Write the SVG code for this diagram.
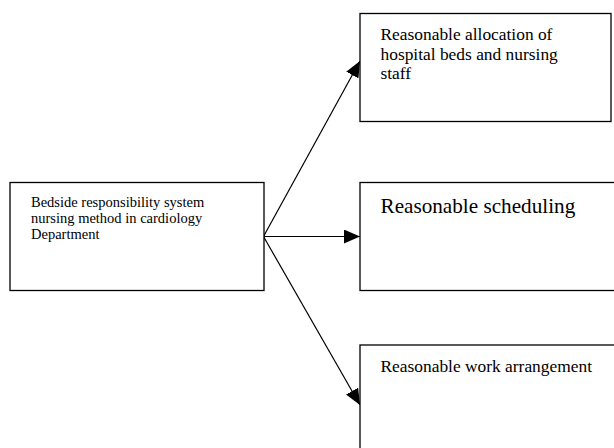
<svg xmlns="http://www.w3.org/2000/svg" width="614" height="448" viewBox="0 0 614 448">
  <style>
    .box { fill: #ffffff; stroke: #000000; stroke-width: 1.3; }
    .conn { fill: none; stroke: #000000; stroke-width: 1.2; marker-end: url(#arrow); }
    .t { font-family: "Liberation Serif", "Times New Roman", serif; fill: #000000; }
  </style>
  <defs>
    <marker id="arrow" markerUnits="userSpaceOnUse" markerWidth="16" markerHeight="14" refX="16" refY="7" orient="auto">
      <path d="M0,0 L16,7 L0,14 z" fill="#000000"/>
    </marker>
  </defs>
  <rect width="614" height="448" fill="#ffffff"/>
  <g id="connectors">
    <line class="conn" x1="263.5" y1="236.5" x2="360" y2="61"/>
    <line class="conn" x1="263.5" y1="236.5" x2="360" y2="236.5"/>
    <line class="conn" x1="263.5" y1="236.5" x2="360" y2="405"/>
  </g>
  <g id="node-source">
    <rect class="box" x="10" y="182.5" width="254" height="108"/>
    <text class="t" font-size="14.5" x="31" y="206.5">Bedside responsibility system</text>
    <text class="t" font-size="14.5" x="31" y="222.5">nursing method in cardiology</text>
    <text class="t" font-size="14.5" x="31" y="238.5">Department</text>
  </g>
  <g id="node-allocation">
    <rect class="box" x="360" y="13.5" width="251" height="108"/>
    <text class="t" font-size="17.4" x="380.5" y="40">Reasonable allocation of</text>
    <text class="t" font-size="17.4" x="380.5" y="59.5">hospital beds and nursing</text>
    <text class="t" font-size="17.4" x="380.5" y="79">staff</text>
  </g>
  <g id="node-scheduling">
    <rect class="box" x="360" y="182.5" width="262" height="108"/>
    <text class="t" font-size="21.2" x="380.5" y="212.5">Reasonable scheduling</text>
  </g>
  <g id="node-work">
    <rect class="box" x="360" y="345" width="262" height="120"/>
    <text class="t" font-size="17.4" x="380.5" y="371.5">Reasonable work arrangement</text>
  </g>
</svg>
